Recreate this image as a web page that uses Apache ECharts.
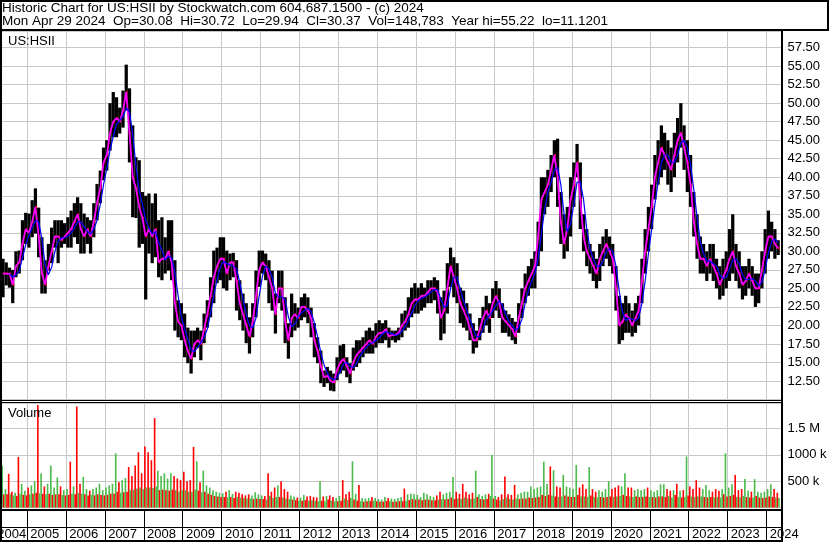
<!DOCTYPE html>
<html><head><meta charset="utf-8">
<script src="https://cdn.jsdelivr.net/npm/echarts/dist/echarts.min.js"></script>
<style>html,body{margin:0;padding:0;background:#fff;overflow:hidden}#c{width:830px;height:543px}</style>
</head><body><div id="c"></div>
<script>
// ---- data: monthly bars, May 2004 .. Apr 2024 ----
const symbol = 'US:HSII';
const titleLine1 = 'Historic Chart for US:HSII by Stockwatch.com 604.687.1500 - (c) 2024';
const titleLine2 = 'Mon Apr 29 2024  Op=30.08  Hi=30.72  Lo=29.94  Cl=30.37  Vol=148,783  Year hi=55.22  lo=11.1201';
const years = [2004,2005,2006,2007,2008,2009,2010,2011,2012,2013,2014,2015,2016,2017,2018,2019,2020,2021,2022,2023,2024];
const priceTicks = [12.5,15,17.5,20,22.5,25,27.5,30,32.5,35,37.5,40,42.5,45,47.5,50,52.5,55,57.5];
const volumeTicks = [500000,1000000,1500000];

const priceHigh = [
 29,28.5,27.8,27.5,30,30.1,34.2,35.2,
 35.1,36.9,38.5,35.9,31.9,28.8,31,33.2,34.2,34.2,34.2,33.8,
 34.6,35.5,36.5,37.3,36.5,35.1,34.6,34.2,36.5,39.1,40.9,44,
 45,50,51.5,50.8,49.4,51.7,55.2,52,47,42.7,42.3,38,
 37.5,37.8,36.5,37.8,34.2,34.6,31.9,34.2,34.2,28.8,23.4,23,
 21.6,19.7,19.3,19.3,19.7,19.3,21.6,23.4,26.5,30.1,30.5,31.9,
 31.9,30.1,29.7,29.8,28.8,26.1,24.3,23,21.1,23,27.4,30.1,
 30.1,29.7,28.8,27.4,24.3,27.4,27.4,23.8,20.3,24.3,23,22.4,
 23.8,24.3,23.8,22.4,20.3,18.4,16.6,13.9,14.4,13.9,13.5,15.7,
 17.3,17.5,15.7,14.9,17,18,18,18.4,19.3,19.7,19.3,20.3,
 20.7,20.3,20.7,19.7,19.3,19.3,19.7,21.6,22,23.8,25.1,25.7,
 25.1,25.7,25.1,26.1,26.1,26.5,26.1,23.8,24.7,28.4,30.5,29.2,
 28.4,25.1,24.7,23,21.6,20.3,19.3,21,22.5,24,23,25,
 26,25,23,22,21.5,21,20.5,23,25,27,28,29,
 30,34,40,40,41,43,45,45.2,38,35,36,40,
 42,44.5,42,35,33,31,30,29,31,32,33,32,
 31,28,24,23,24,23,22,23,24,29,33,36,
 39,43,45,47,46,45,44,46,48,50,47,45,
 43,38,35,32,31,30,31,31,29,28,29,30,
 33,35,31,30,28,28,29,28,27,27,30,33,
 35.5,34,33,31.5
];
const priceLow = [
 23.8,25.4,25.1,23,26.5,27,28.8,31,
 30.5,31.9,32.4,29.2,24.3,24.3,27.4,28.4,30.5,28.4,30.5,31,
 30.5,30.5,31.9,31,29.7,29.7,31,29.7,31.9,34.2,36.5,39.6,
 40.9,43.6,45.4,45.4,45.9,46.7,49,42,34.6,34.5,30.5,31,
 23.5,29.7,28.4,29.2,26.5,26.1,27,27.4,26.1,19.3,18.4,18,
 15.7,14.9,13.5,15.7,17,15.3,17.6,19.7,21.1,23,25.7,26.1,
 25,24.7,26.1,26.5,22,20.7,19.3,17.6,16.2,18.4,21.1,25.2,
 27,26.1,23,22,18.9,23,22,17.6,15.5,18.4,19.3,19.7,
 20.7,21.1,20.3,18.4,15.7,14.9,12.2,11.7,12.2,11.2,11.1,12.6,
 13.5,13.9,13,12.2,13.9,14.4,14.9,15.7,16.2,16.2,16.2,17,
 17.6,17.6,18,17,18,17.7,18,18.4,19.3,19.7,21.1,21.6,
 21.6,22,22.4,23,23,23.4,21.6,18,18.9,21.6,25.2,23.8,
 23,20.3,19.7,19.3,18,16.2,17,18,19,20,19,21,
 22,21,19,19,18.5,18,17.5,19,21,23,24,25,
 25,28,30,35,36,38,40,36,31,29,30,32,
 36,40,33,30,28,27,26,25,26,28,29,28,
 27,22,17.5,18,19,19,18.5,19,20,23,27,30,
 33,37,39,40,41,39,38,40,42,44,41,38,
 36,32,29,27,27,26,27,26,25,23.5,24,25,
 26,27,26,25,23.5,24,25,24,22.5,23,25,27,
 29,30,29,29.5
];
const priceClose = [
 27,27,27,25.5,28,28.5,31,33,
 32.5,34,36,32,27,25.5,28,30,32,32,31.5,32,
 32.5,33,34,35,33,32,33,32,34,36.5,38.5,42,
 43,46,47.5,48,47.5,49,51.5,46,40,38.5,36,34.5,
 32,33,32,33,28.5,29,29,30,28.5,23,20.5,20,
 18,16.5,15.5,17.5,18,17.5,19.5,21.5,24,26.5,28,29,
 29,27,28.5,28.5,26,23,21.5,20,18.5,20.5,24,27.5,
 28.5,28,26.5,25,21.5,25,25,20.5,18,21,21.5,21,
 22.5,22.5,22,21,18,16.5,14.5,13,13.2,12.5,12.3,14,
 15,15.5,14.5,13.5,15,16,16.5,17,17.5,18,17.5,18.5,
 19,19,19.5,18.5,18.7,18.7,19,20,20.5,21.5,23,23.5,
 23.5,24,24,24.5,25,25,24.5,21,22,25,28,26.5,
 25,23,22,21,19.5,18,18,19.5,21,22,21,23,
 24,23,21,20.5,20,19.5,18.5,21,23,25,26,27,
 28,32,37,38,39,41,43,40,34,31,33,37,
 39,42,37,32,30,29,28,27,29,30,31,30,
 29,25,20,20.5,21.5,21,20,21,22,26,30,33,
 36,40,42,44,43,42,41,43,45,46,44,42,
 39,34,31,29,29,28,29,28,27,25.5,26.5,27.5,
 29,30,28,27,25.5,26,27,26,25,25,27.5,30,
 32,32,31,30.4
];
// volume in thousands: tallest weekly bar in the month, and the typical level
const volPeak = [
 800,350,640,300,280,960,450,320,
 380,420,500,1950,650,400,450,800,380,570,400,330,
 350,870,400,1920,450,580,350,320,350,380,450,330,
 380,420,450,1030,480,520,560,770,600,800,1050,650,
 1160,1050,900,1700,700,600,650,550,650,600,550,520,
 680,500,520,1150,880,480,700,420,380,330,300,280,
 270,300,330,260,300,280,250,230,250,230,290,250,
 230,220,650,300,380,420,500,350,300,230,210,190,
 190,240,210,220,200,190,500,210,220,230,200,180,
 220,520,250,300,880,260,430,180,170,180,200,180,
 160,150,200,180,170,160,180,200,360,250,260,250,
 240,200,280,250,220,200,230,300,250,280,300,580,
 300,260,450,300,250,280,700,250,220,250,260,1000,
 220,200,250,590,250,240,430,250,280,300,300,400,
 350,380,400,870,450,780,710,400,380,620,400,380,
 350,810,380,440,350,770,350,300,330,300,350,500,
 350,380,420,400,650,380,380,330,350,330,350,380,
 330,300,330,440,440,350,320,330,450,320,330,970,
 400,350,520,380,350,430,330,300,350,320,350,1030,
 380,440,620,330,350,540,320,300,540,300,280,300,
 350,440,350,280
];
const volBase = [
 250,250,260,230,220,260,240,230,
 250,260,280,270,260,250,260,240,250,250,240,230,
 240,260,250,280,260,250,230,240,230,250,240,230,
 240,260,260,300,280,290,300,330,340,360,380,350,
 380,380,370,400,330,340,330,320,340,330,300,330,
 330,300,300,340,320,290,300,260,240,220,210,200,
 200,190,200,180,200,190,180,170,170,160,170,160,
 160,150,220,180,200,200,190,170,160,150,140,130,
 130,140,130,140,130,120,130,120,150,130,120,120,
 130,170,140,180,150,130,120,110,120,120,130,120,
 110,110,120,120,110,110,120,120,130,140,160,150,
 150,140,150,150,140,140,150,160,150,160,190,160,
 170,160,190,170,160,170,200,160,150,160,220,170,
 150,140,160,190,160,150,170,160,170,170,190,180,
 190,200,240,220,240,230,210,200,210,230,210,200,
 200,240,210,210,200,230,200,190,200,190,200,210,
 200,210,220,240,220,210,200,210,200,200,210,200,
 200,190,210,210,200,220,190,240,200,190,200,230,
 210,200,210,210,200,190,200,190,200,190,250,210,
 220,240,200,190,220,200,190,190,220,190,180,190,
 210,200,190,180
];
// colour of the tall volume spikes as seen on the chart (r = down, g = up)
const volSpikeColour = {
 '2004-05':'g','2004-07':'r','2004-10':'r','2005-04':'r','2005-05':'g','2005-08':'g','2005-10':'g',
 '2006-02':'r','2006-04':'r','2006-06':'g','2006-11':'g','2007-04':'g','2007-08':'r','2007-10':'r',
 '2007-11':'r','2008-01':'r','2008-02':'r','2008-04':'r','2008-05':'g','2008-07':'g','2008-09':'g',
 '2009-01':'r','2009-04':'r','2009-05':'g','2009-07':'g','2011-03':'r','2011-07':'r','2012-07':'g',
 '2013-02':'r','2013-05':'g','2013-07':'r','2014-09':'r','2015-12':'g','2016-03':'r','2016-07':'g',
 '2016-12':'g','2017-04':'r','2017-07':'r','2017-12':'g','2018-04':'g','2018-06':'r','2018-07':'g',
 '2018-10':'g','2019-02':'g','2019-04':'r','2019-06':'g','2019-12':'g','2020-03':'r','2020-05':'g',
 '2020-07':'r','2020-12':'r','2021-04':'g','2021-05':'g','2021-09':'r','2021-12':'g','2022-03':'r',
 '2022-06':'g','2022-12':'g','2023-02':'g','2023-03':'r','2023-06':'g','2023-09':'g','2024-02':'g',
 '2024-03':'r'
};

// ---- build ----
const FONT = '"Liberation Sans", Arial, sans-serif';
const START_YEAR = 2004, START_MONTH = 4; // May
const X_MIN = 2004.3495, X_MAX = 2024.378;
const GRID_LEFT = 2, GRID_W = 779.5;
function monthTime(i){ return START_YEAR + (START_MONTH + i) / 12; }
function monthKey(i){
  const m = START_MONTH + i, y = START_YEAR + Math.floor(m / 12), mm = m % 12 + 1;
  return y + '-' + (mm < 10 ? '0' : '') + mm;
}

const ohlc = priceClose.map((c, i) => [monthTime(i), priceHigh[i], priceLow[i], c]);
const closeLine = priceClose.map((c, i) => [monthTime(i) + 1/24, c]);
const maLine = [];
for (let i = 2; i < priceClose.length; i++) {
  maLine.push([monthTime(i) + 1/24, (priceClose[i] + priceClose[i-1] + priceClose[i-2]) / 3]);
}
const volData = volPeak.map((v, i) => {
  const k = volSpikeColour[monthKey(i)];
  const down = k ? (k === 'r' ? 1 : 0) : ((i > 0 && priceClose[i] < priceClose[i-1]) ? 1 : 0);
  return [monthTime(i), v * 1000, volBase[i] * 1000, down];
});
const dataStart = monthTime(0);

const RED = '#ff0000', GREEN = '#4cbb4c';

function xAxisCfg(k){
  return {type:'value', gridIndex:k, min:X_MIN, max:X_MAX,
    axisLine:{show:false}, axisTick:{show:false}, axisLabel:{show:false}, splitLine:{show:false}};
}
function yearLines(k, color, yVal){
  return {type:'custom', xAxisIndex:k, yAxisIndex:k, z:1, silent:true,
    data: years.map(y => [y, yVal]), encode:{x:0, y:1},
    renderItem(params, api){
      const cs = params.coordSys;
      const px = api.coord([api.value(0), yVal])[0];
      if (px < cs.x || px > cs.x + cs.width - 1) return null;
      const x = Math.floor(px) + 0.5;
      return {type:'line', shape:{x1:x, y1:cs.y, x2:x, y2:cs.y + cs.height},
        style:{stroke:color, lineWidth:1}};
    }};
}

const chart = echarts.init(document.getElementById('c'), null, {renderer:'canvas'});
chart.setOption({
  animation:false,
  backgroundColor:'#fff',
  grid:[
    {left:GRID_LEFT, top:31, width:GRID_W, height:368.5},
    {left:GRID_LEFT, top:403, width:GRID_W, height:104.5},
    {left:GRID_LEFT, top:510, width:GRID_W, height:30}
  ],
  xAxis:[xAxisCfg(0), xAxisCfg(1), xAxisCfg(2)],
  yAxis:[
    {type:'value', gridIndex:0, position:'right', min:10, max:59.74, interval:2.5,
     axisLine:{show:false}, axisTick:{show:false},
     axisLabel:{margin:6, showMinLabel:false, showMaxLabel:false, color:'#000', fontSize:13, fontFamily:FONT,
       formatter:v => priceTicks.indexOf(v) >= 0 ? v.toFixed(2) : ''},
     splitLine:{show:true, lineStyle:{color:'#c8c8c8', width:1}}},
    {type:'value', gridIndex:1, position:'right', min:0, max:1986700, interval:500000,
     axisLine:{show:false}, axisTick:{show:false},
     axisLabel:{margin:6, showMinLabel:false, showMaxLabel:false, color:'#000', fontSize:13, fontFamily:FONT,
       formatter:v => volumeTicks.indexOf(v) < 0 ? '' : (v >= 1500000 ? (v/1e6) + ' M' : (v/1000) + ' k')},
     splitLine:{show:true, lineStyle:{color:'#c8c8c8', width:1}}},
    {type:'value', gridIndex:2, min:0, max:1, show:false}
  ],
  series:[
    yearLines(0, '#c8c8c8', 10),
    yearLines(1, '#c8c8c8', 0),
    yearLines(2, '#000', 0),
    {type:'custom', name:'price', xAxisIndex:0, yAxisIndex:0, data:ohlc, z:2,
     encode:{x:0, y:[1,2]},
     renderItem(params, api){
       const t = api.value(0), hi = api.value(1), lo = api.value(2), c = api.value(3);
       const a = api.coord([t, hi]), b = api.coord([t + 1/12, lo]), cc = api.coord([t + 1/12, c]);
       return {type:'group', children:[
         {type:'rect', shape:{x:a[0], y:a[1], width:b[0]-a[0], height:Math.max(1, b[1]-a[1])}, style:{fill:'#000'}},
         {type:'rect', shape:{x:cc[0]-1.5, y:cc[1]-1, width:1.5, height:2}, style:{fill:RED}}
       ]};
     }},
    {type:'line', name:'ma short', xAxisIndex:0, yAxisIndex:0, data:closeLine, showSymbol:false, z:4,
     lineStyle:{color:'#ff00ff', width:1.8}},
    {type:'line', name:'ma long', xAxisIndex:0, yAxisIndex:0, data:maLine, showSymbol:false, z:5,
     lineStyle:{color:'#0000ff', width:1.2}},
    {type:'custom', name:'volume', xAxisIndex:1, yAxisIndex:1, data:volData, z:2,
     encode:{x:0, y:[1,2]},
     renderItem(params, api){
       const t = api.value(0), pk = api.value(1), bs = api.value(2), dn = api.value(3);
       const p0 = api.coord([t, 0]), p1 = api.coord([t + 1/24, pk]);
       const q1 = api.coord([t + 1/12, bs]);
       const c1 = dn ? RED : GREEN, c2 = dn ? GREEN : RED;
       return {type:'group', children:[
         {type:'rect', shape:{x:p0[0], y:p1[1], width:p1[0]-p0[0], height:p0[1]-p1[1]}, style:{fill:c1}},
         {type:'rect', shape:{x:p1[0], y:q1[1], width:q1[0]-p1[0], height:p0[1]-q1[1]}, style:{fill:c2}}
       ]};
     }},
    {type:'custom', name:'years', xAxisIndex:2, yAxisIndex:2, data:years.map(y => [y, 0]), z:6,
     encode:{x:0, y:1},
     renderItem(params, api){
       const y = api.value(0);
       const p = api.coord([y, 0]);
       const ds = api.coord([dataStart, 0]);
       const x = Math.max(p[0] + 3, ds[0] - 4);
       return {type:'text', style:{text:String(y), x:x, y:534.8, fill:'#000', font:'13px ' + FONT,
         textAlign:'left', textVerticalAlign:'middle'}};
     }}
  ],
  graphic:[
    {type:'rect', shape:{x:1, y:1, width:827, height:29}, style:{stroke:'#000', lineWidth:2, fill:null}, z:10},
    {type:'line', shape:{x1:1, y1:0, x2:1, y2:542}, style:{stroke:'#000', lineWidth:2}, z:10},
    {type:'line', shape:{x1:782, y1:30, x2:782, y2:542}, style:{stroke:'#000', lineWidth:2}, z:10},
    {type:'line', shape:{x1:0, y1:541, x2:783, y2:541}, style:{stroke:'#000', lineWidth:2}, z:10},
    {type:'line', shape:{x1:0, y1:400.5, x2:782, y2:400.5}, style:{stroke:'#000', lineWidth:1}, z:10},
    {type:'line', shape:{x1:0, y1:402.5, x2:782, y2:402.5}, style:{stroke:'#000', lineWidth:1}, z:10},
    {type:'line', shape:{x1:0, y1:510, x2:782, y2:510}, style:{stroke:'#000', lineWidth:2}, z:10},
    {type:'line', shape:{x1:0, y1:527.5, x2:782, y2:527.5}, style:{stroke:'#000', lineWidth:1}, z:10},
    {type:'text', style:{text:titleLine1, x:2, y:8.7, fill:'#000', font:'13.5px ' + FONT, textVerticalAlign:'middle'}, z:11},
    {type:'text', style:{text:titleLine2, x:2, y:21.7, fill:'#000', font:'13.5px ' + FONT, textVerticalAlign:'middle'}, z:11},
    {type:'text', style:{text:symbol, x:8, y:41.8, fill:'#000', font:'13px ' + FONT, textVerticalAlign:'middle'}, z:11},
    {type:'text', style:{text:'Volume', x:8, y:413.5, fill:'#000', font:'13px ' + FONT, textVerticalAlign:'middle'}, z:11}
  ]
});
</script></body></html>
